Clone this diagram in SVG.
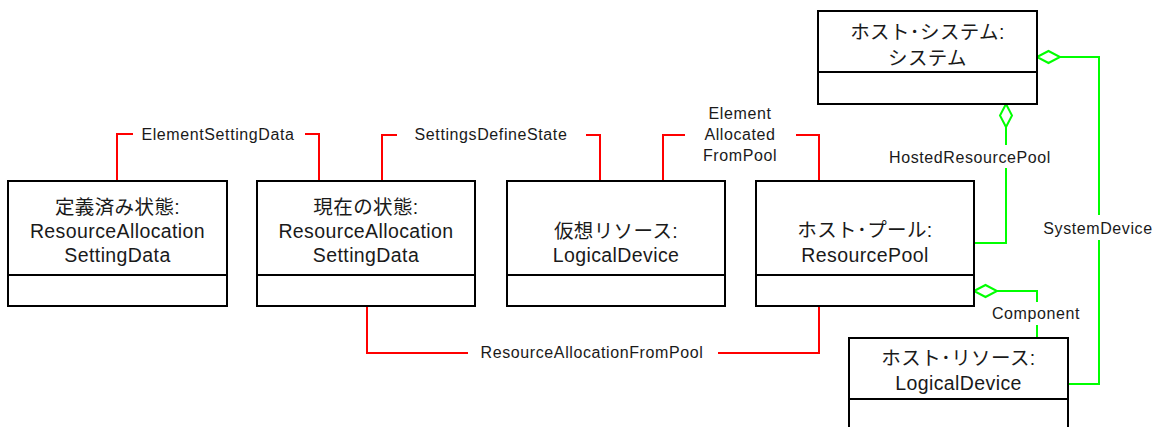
<svg xmlns="http://www.w3.org/2000/svg" width="1158" height="427" viewBox="0 0 1158 427">
<style>
.box{fill:#fff;stroke:#000;stroke-width:2}
.div{stroke:#000;stroke-width:2}
.t{font-family:"Liberation Sans","Noto Sans CJK JP",sans-serif;font-size:19.5px;letter-spacing:0.4px;fill:#1a1a1a;text-anchor:middle}
.l{font-family:"Liberation Sans","Noto Sans CJK JP",sans-serif;font-size:16px;letter-spacing:0.6px;fill:#1a1a1a;text-anchor:middle}
.red{fill:none;stroke:#ff0000;stroke-width:2}
.grn{fill:none;stroke:#00ff00;stroke-width:2}
.dia{fill:#fff;stroke:#00ff00;stroke-width:2}
</style>
<rect width="1158" height="427" fill="#fff"/>
<g id="connectors">
  <path class="red" d="M117,181 V134 H133 M305,134 H319 V181"/>
  <path class="red" d="M382,181 V135 H397 M586,135 H600 V181"/>
  <path class="red" d="M663,181 V135 H685 M796,135 H819 V181"/>
  <path class="red" d="M367,306 V353 H468 M718,353 H819 V306"/>
  <path class="grn" d="M1006,127 V145 M1006,168 V243 H974"/>
  <path class="dia" d="M1006,104 L1012,115.5 L1006,127 L1000,115.5 Z"/>
  <path class="grn" d="M1060,57 H1099 V215 M1099,240 V384 H1068"/>
  <path class="dia" d="M1037,57 L1048.5,51 L1060,57 L1048.5,63 Z"/>
  <path class="grn" d="M997,291 H1037 V302 M1037,325 V338"/>
  <path class="dia" d="M974,291 L985.5,285 L997,291 L985.5,297 Z"/>
  <text class="l" x="218" y="140">ElementSettingData</text>
  <text class="l" x="491" y="140">SettingsDefineState</text>
  <text class="l" x="740" y="119">Element</text>
  <text class="l" x="740" y="140">Allocated</text>
  <text class="l" x="740" y="161">FromPool</text>
  <text class="l" x="592" y="358">ResourceAllocationFromPool</text>
  <text class="l" x="970" y="163">HostedResourcePool</text>
  <text class="l" x="1098" y="234">SystemDevice</text>
  <text class="l" x="1036" y="319">Component</text>
</g>
<g id="node-defined">
  <rect class="box" x="8" y="181" width="219" height="125"/>
  <line class="div" x1="8" y1="275" x2="227" y2="275"/>
  <text class="t" x="117.5" y="214">定義済み状態:</text>
  <text class="t" x="117.5" y="238">ResourceAllocation</text>
  <text class="t" x="117.5" y="262">SettingData</text>
</g>
<g id="node-current">
  <rect class="box" x="257" y="181" width="218" height="125"/>
  <line class="div" x1="257" y1="275" x2="475" y2="275"/>
  <text class="t" x="366" y="214">現在の状態:</text>
  <text class="t" x="366" y="238">ResourceAllocation</text>
  <text class="t" x="366" y="262">SettingData</text>
</g>
<g id="node-virtual">
  <rect class="box" x="507" y="181" width="218" height="125"/>
  <line class="div" x1="507" y1="275" x2="725" y2="275"/>
  <text class="t" x="616" y="238">仮想リソース:</text>
  <text class="t" x="616" y="262">LogicalDevice</text>
</g>
<g id="node-pool">
  <rect class="box" x="756" y="181" width="218" height="125"/>
  <line class="div" x1="756" y1="275" x2="974" y2="275"/>
  <text class="t" x="865" y="237">ホスト･プール:</text>
  <text class="t" x="865" y="262">ResourcePool</text>
</g>
<g id="node-system">
  <rect class="box" x="818" y="11" width="219" height="93"/>
  <line class="div" x1="818" y1="72" x2="1037" y2="72"/>
  <text class="t" x="927.5" y="39">ホスト･システム:</text>
  <text class="t" x="927.5" y="65">システム</text>
</g>
<g id="node-resource">
  <rect class="box" x="849" y="338" width="219" height="110"/>
  <line class="div" x1="849" y1="399" x2="1068" y2="399"/>
  <text class="t" x="958.5" y="365">ホスト･リソース:</text>
  <text class="t" x="958.5" y="390">LogicalDevice</text>
</g>
</svg>
